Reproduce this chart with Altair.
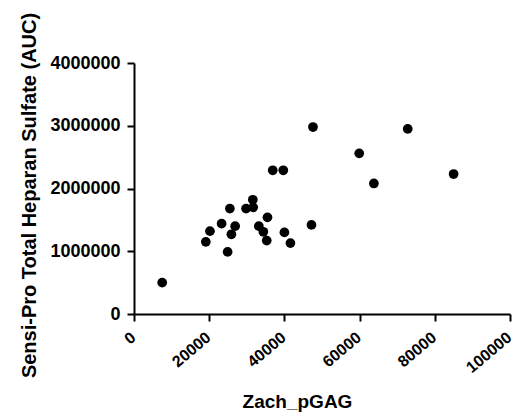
import altair as alt
import pandas as pd

zach_pgag = [7500, 19100, 20200, 23300, 24900, 25500, 25900, 26900, 29800, 31600,
             31700, 33200, 34400, 35500, 35300, 36900, 39700, 40000, 41600, 47200,
             47600, 59900, 63800, 72800, 85000]
sensi_pro = [500000, 1150000, 1320000, 1440000, 990000, 1680000, 1270000, 1400000,
             1680000, 1820000, 1700000, 1400000, 1310000, 1540000, 1170000, 2290000,
             2290000, 1300000, 1130000, 1420000, 2980000, 2560000, 2080000, 2950000,
             2230000]

x_ticks = [0, 20000, 40000, 60000, 80000, 100000]
y_ticks = [0, 1000000, 2000000, 3000000, 4000000]

df = pd.DataFrame({"Zach_pGAG": zach_pgag, "SensiPro": sensi_pro})

FONT = "Liberation Sans"

chart = alt.Chart(df).mark_circle(size=95, color="black", opacity=1).encode(
    x=alt.X("Zach_pGAG:Q",
            scale=alt.Scale(domain=[0, 100000], nice=False, zero=True),
            axis=alt.Axis(values=x_ticks, format="d", labelAngle=-40,
                          labelAlign="right", labelBaseline="middle",
                          labelPadding=14, labelOffset=-1, labelFontSize=16,
                          title="Zach_pGAG", grid=False,
                          titleX=163, titleY=93, titleBaseline="alphabetic",
                          titleFontSize=19)),
    y=alt.Y("SensiPro:Q",
            scale=alt.Scale(domain=[0, 4000000], nice=False),
            axis=alt.Axis(values=y_ticks, format="d", labelPadding=7,
                          labelFontSize=18,
                          title="Sensi-Pro Total Heparan Sulfate (AUC)",
                          grid=False, titlePadding=10, titleFontSize=20,
                          titleY=132)),
).properties(
    width=376, height=251,
    autosize=alt.AutoSizeParams(type="none"),
    padding={"left": 134, "top": 63, "right": 9, "bottom": 100},
).configure_view(stroke=None).configure_axis(
    domainColor="black", domainWidth=2, tickColor="black", tickWidth=2, tickSize=7,
    labelColor="black", labelFont=FONT, labelFontWeight="bold",
    titleColor="black", titleFont=FONT,
    titleFontWeight="bold", labelFlush=False, labelOverlap=False,
)

chart.save("out.html", embed_options={"renderer": "svg", "actions": False})
